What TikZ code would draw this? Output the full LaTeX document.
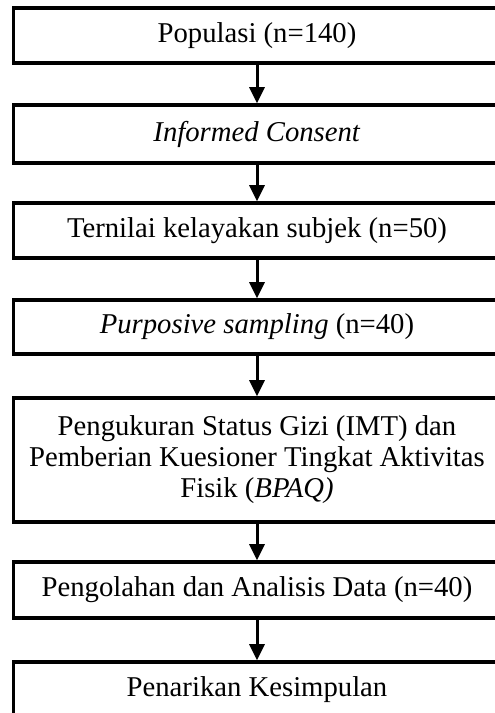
\documentclass[tikz,border=0pt]{standalone}
\usepackage{fontspec}
\setmainfont{Liberation Serif}
\usetikzlibrary{positioning,arrows.meta}
\tikzset{
	stepbox/.style={draw, line width=3.6pt, minimum width=487pt, align=center, inner sep=0pt},
	flowedge/.style={->,>={Triangle[width=15pt,length=16pt]}, line width=3pt},
	boxtext/.style={font=\fontsize{28.7}{31}\selectfont}
}

\begin{document}
\begin{tikzpicture}[x=1pt,y=-1pt]
		\clip (0,0) rectangle (495,713);
		
		%%%% boxes
		\node[stepbox,boxtext,minimum height=55pt] (pop) at (257,35.5) {Populasi (n=140)};
		\node[stepbox,boxtext,minimum height=58pt] (consent) at (257,134) {\textit{Informed Consent}};
		\node[stepbox,boxtext,minimum height=55pt] (layak) at (257,230.5) {Ternilai kelayakan subjek (n=50)};
		\node[stepbox,boxtext,minimum height=54pt] (sampling) at (257,327) {\textit{Purposive sampling} (n=40)};
		\node[stepbox,boxtext,minimum height=124pt] (ukur) at (257,460) {Pengukuran Status Gizi (IMT) dan\\Pemberian Kuesioner Tingkat Aktivitas\\Fisik (\textit{BPAQ)}};
		\node[stepbox,boxtext,minimum height=56pt] (olah) at (257,590) {Pengolahan dan Analisis Data (n=40)};
		\node[stepbox,boxtext,minimum height=56pt] (simpul) at (257,690) {Penarikan Kesimpulan};
		
		%%%% arrows
		\draw[flowedge] (pop) -- (consent);
		\draw[flowedge] (consent) -- (layak);
		\draw[flowedge] (layak) -- (sampling);
		\draw[flowedge] (sampling) -- (ukur);
		\draw[flowedge] (ukur) -- (olah);
		\draw[flowedge] (olah) -- (simpul);
		
	\end{tikzpicture}
\end{document}
